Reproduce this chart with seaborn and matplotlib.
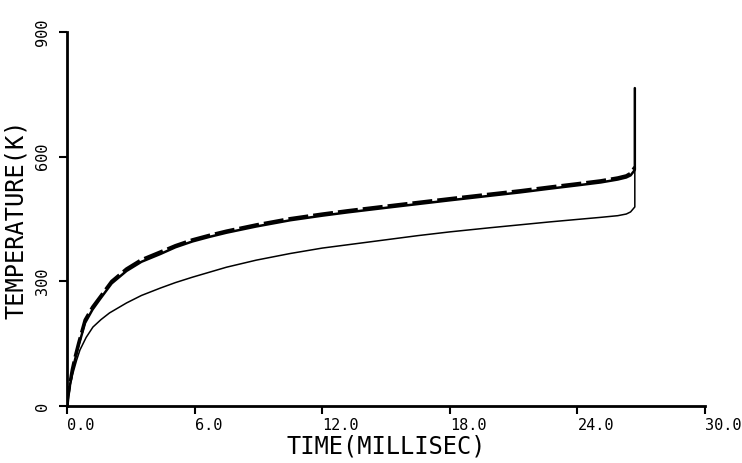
import matplotlib
matplotlib.use("Agg")
import matplotlib.pyplot as plt
import matplotlib.transforms as mtransforms
import seaborn as sns
import pandas as pd

# ---- data ----
time_dashed = [0.0, 0.05, 0.14, 0.25, 0.38, 0.55, 0.85, 1.2, 1.55, 2.1, 2.8, 3.5, 4.4, 5.1, 5.9,
               6.7, 7.5, 8.9, 10.5, 12.0, 13.2, 15.0, 16.5, 18.0, 19.9, 21.3, 22.7, 24.0, 25.1,
               25.9, 26.3, 26.5, 26.7]
temp_dashed = [0, 25, 55, 88, 118, 152, 207, 238, 262, 300, 330, 352, 371, 386, 400,
               411, 421, 436, 451, 462, 470, 481, 490, 499, 510, 518, 527, 535, 542,
               549, 554, 560, 575]

time_solid = [0.0, 0.05, 0.14, 0.25, 0.38, 0.55, 0.85, 1.2, 1.55, 2.1, 2.8, 3.5, 4.4, 5.1, 5.9,
              6.7, 7.5, 8.9, 10.5, 12.0, 13.2, 15.0, 16.5, 18.0, 19.9, 21.3, 22.7, 24.0, 25.1,
              25.9, 26.3, 26.5, 26.7, 26.7]
temp_solid = [0, 22, 50, 83, 112, 146, 200, 232, 257, 295, 325, 347, 366, 382, 396,
              407, 417, 432, 447, 458, 466, 477, 486, 495, 506, 514, 523, 531, 538,
              545, 550, 555, 568, 765]

time_lower = [0.0, 0.1, 0.28, 0.45, 0.61, 0.9, 1.22, 1.6, 2.0, 2.8, 3.5, 4.4, 5.1, 5.9, 6.7,
              7.5, 8.9, 10.5, 12.0, 13.2, 15.0, 16.5, 18.0, 19.9, 21.3, 22.7, 24.0, 25.1,
              25.9, 26.3, 26.5, 26.7, 26.7]
temp_lower = [0, 40, 79, 110, 135, 165, 190, 208, 224, 248, 266, 284, 297, 310, 322,
              334, 351, 367, 380, 388, 400, 410, 419, 429, 436, 443, 449, 454,
              458, 462, 467, 479, 566]

x_ticks = [0, 6, 12, 18, 24, 30]
x_tick_labels = ["0.0", "6.0", "12.0", "18.0", "24.0", "30.0"]
y_ticks = [0, 300, 600, 900]
y_tick_labels = ["0", "300", "600", "900"]

sns.set_theme(style="white")
plt.rcParams["font.family"] = ["DejaVu Sans Mono", "DejaVu Sans"]

fig = plt.figure(figsize=(7.42, 4.63), dpi=100)
ax = fig.add_axes([67 / 742, 1 - 406 / 463, (705 - 67) / 742, (406 - 32) / 463])

df_d = pd.DataFrame({"t": time_dashed, "T": temp_dashed})
df_s = pd.DataFrame({"t": time_solid, "T": temp_solid})
df_l = pd.DataFrame({"t": time_lower, "T": temp_lower})

sns.lineplot(data=df_l, x="t", y="T", ax=ax, color="black", lw=1.1,
             sort=False, estimator=None)
sns.lineplot(data=df_s, x="t", y="T", ax=ax, color="black", lw=1.8,
             sort=False, estimator=None)
sns.lineplot(data=df_d, x="t", y="T", ax=ax, color="black", lw=2.4,
             sort=False, estimator=None, linestyle=(0, (6, 1.5)))

ax.set_xlim(0, 30)
ax.set_ylim(0, 900)
ax.set_xticks(x_ticks)
ax.set_xticklabels(x_tick_labels, fontsize=11)
ax.set_yticks(y_ticks)
ax.set_yticklabels(y_tick_labels, fontsize=11, rotation=90, va="center")

for lab in ax.get_xticklabels():
    lab.set_ha("left")
    lab.set_transform(lab.get_transform() +
                      mtransforms.ScaledTranslation(-7 / 100, 0, fig.dpi_scale_trans))

ax.tick_params(axis="both", direction="out", length=6, width=1.5, color="black",
               bottom=True, left=True, labelcolor="black")
ax.tick_params(axis="x", pad=3)
ax.tick_params(axis="y", pad=6)

for side in ["top", "right"]:
    ax.spines[side].set_visible(False)
for side in ["left", "bottom"]:
    ax.spines[side].set_visible(True)
    ax.spines[side].set_linewidth(2.0)
    ax.spines[side].set_color("black")

ax.set_xlabel("TIME(MILLISEC)", fontsize=17, labelpad=1, color="black")
ax.set_ylabel("TEMPERATURE(K)", fontsize=17, labelpad=5, color="black")
ax.grid(False)

fig.savefig("out.png", dpi=100, facecolor="white")
